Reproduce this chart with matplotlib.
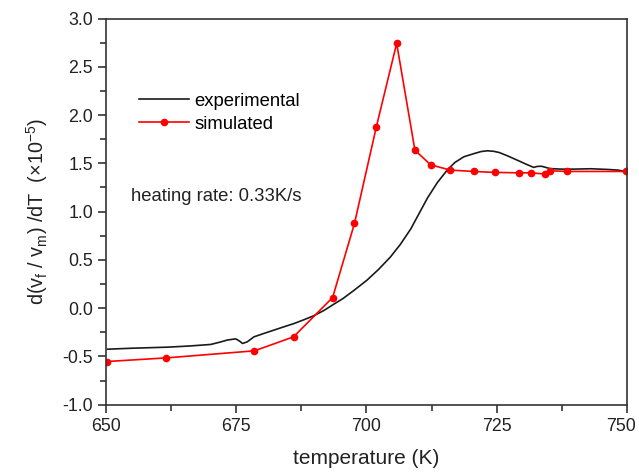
import matplotlib
matplotlib.use("Agg")
import matplotlib.pyplot as plt
import matplotlib.transforms as mtransforms

# experimental curve
exp_T = [650.3, 655.0, 661.8, 666.0, 670.1, 672.0, 673.3, 674.9, 675.6, 676.2,
         677.1, 678.4, 680.3, 682.2, 684.1, 686.1, 688.0, 689.9, 691.8, 693.7,
         695.5, 697.5, 700.1, 702.3, 704.6, 706.5, 708.5, 710.1, 711.7, 713.6,
         715.5, 717.0, 718.7, 720.6, 722.0, 723.2, 724.4, 725.5, 727.2, 728.9,
         730.5, 732.1, 732.8, 733.6, 735.3, 737.5, 739.8, 743.0, 746.2, 748.3, 749.9]
exp_y = [-0.425, -0.415, -0.404, -0.392, -0.376, -0.35, -0.33, -0.318, -0.34, -0.366,
         -0.349, -0.297, -0.262, -0.228, -0.194, -0.159, -0.12, -0.078, -0.025, 0.04,
         0.10, 0.18, 0.29, 0.40, 0.53, 0.66, 0.82, 0.98, 1.14, 1.30,
         1.43, 1.51, 1.568, 1.60, 1.622, 1.63, 1.625, 1.612, 1.575, 1.534,
         1.495, 1.458, 1.468, 1.47, 1.445, 1.44, 1.44, 1.444, 1.437, 1.43, 1.413]

# simulated points
sim_T = [650.1, 661.6, 678.5, 686.0, 693.5, 697.7, 701.9, 705.8, 709.3, 712.3,
         716.1, 720.6, 724.6, 729.2, 731.5, 734.3, 735.2, 738.6, 749.9]
sim_y = [-0.553, -0.515, -0.442, -0.297, 0.11, 0.878, 1.879, 2.743, 1.637, 1.485,
         1.43, 1.416, 1.406, 1.402, 1.402, 1.389, 1.423, 1.416, 1.416]

plt.rcParams['font.family'] = ['Liberation Sans', 'DejaVu Sans']
plt.rcParams['mathtext.fontset'] = 'custom'
plt.rcParams['mathtext.rm'] = 'Liberation Sans'
plt.rcParams['mathtext.it'] = 'Liberation Sans'

fig = plt.figure(figsize=(6.39, 4.75), dpi=100)
ax = fig.add_axes([0.166, 0.148, 0.815, 0.813])

ax.plot(exp_T, exp_y, color='#1a1a1a', lw=1.2, label='experimental')
ax.plot(sim_T, sim_y, color='red', lw=1.2, marker='o', markersize=4.5,
        label='simulated')

ax.set_xlim(650, 750)
ax.set_ylim(-1.0, 3.0)
ax.set_xticks([650, 675, 700, 725, 750])
ax.set_xticks([662.5, 687.5, 712.5, 737.5], minor=True)
ax.set_yticks([-1.0, -0.5, 0.0, 0.5, 1.0, 1.5, 2.0, 2.5, 3.0])
ax.set_yticks([-0.75, -0.25, 0.25, 0.75, 1.25, 1.75, 2.25, 2.75], minor=True)
ax.set_yticklabels(['-1.0', '-0.5', '0.0', '0.5', '1.0', '1.5', '2.0', '2.5', '3.0'])
ax.tick_params(which='major', direction='out', length=6, width=1.1,
               labelsize=12.8, colors='#222222')
ax.tick_params(which='minor', direction='out', length=4, width=1.1, colors='#222222')
for s in ax.spines.values():
    s.set_linewidth(1.2)
    s.set_color('#333333')

# the last x label sits a bit to the left so it stays inside the picture
last = ax.get_xticklabels()[-1]
last.set_transform(last.get_transform() +
                   mtransforms.ScaledTranslation(-6 / 100, 0, fig.dpi_scale_trans))

ax.set_xlabel('temperature (K)', fontsize=15, color='#222222', labelpad=10)
ax.set_ylabel(r'd(v$_\mathregular{f}$ / v$_\mathregular{m}$) /dT  ($\times$10$^\mathregular{-5}$)',
              fontsize=14.3, color='#222222', labelpad=9)

ax.legend(loc='center left', bbox_to_anchor=(0.063, 0.7565), frameon=False,
          fontsize=13.3, handlelength=2.7, handletextpad=0.3, labelspacing=0.32,
          borderpad=0, borderaxespad=0)
ax.text(0.048, 0.538, 'heating rate: 0.33K/s', transform=ax.transAxes,
        fontsize=13.3, va='center', color='#222222')

fig.savefig('out.png', dpi=100)
